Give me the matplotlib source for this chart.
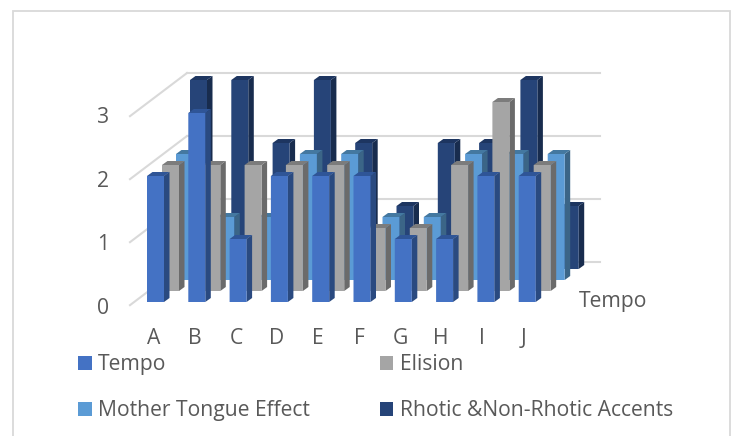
import matplotlib
matplotlib.use("Agg")
import matplotlib.pyplot as plt
import numpy as np
from matplotlib.collections import PolyCollection
from matplotlib.patches import Rectangle

categories = ["A", "B", "C", "D", "E", "F", "G", "H", "I", "J"]
tempo = [2, 3, 1, 2, 2, 2, 1, 1, 2, 2]
elision = [2, 2, 2, 2, 2, 1, 1, 2, 3, 2]
mother = [2, 1, 1, 2, 2, 1, 1, 2, 2, 2]
rhotic = [3, 3, 2, 3, 2, 1, 2, 2, 3, 1]
y_ticks = [0, 1, 2, 3]

W, H = 731, 436
PX_X, PX_Y = 41.3, 63.0
X0, Y0 = 147.0, 302.0
px2x = lambda p: (p - X0) / PX_X
py2y = lambda p: (Y0 - p) / PX_Y

plt.rcParams['font.family'] = ['Open Sans', 'DejaVu Sans']
FS = 15.2
fig = plt.figure(figsize=(W / 100, H / 100), dpi=100)
ax = fig.add_axes([0, 0, 1, 1])
ax.set_xlim(px2x(0), px2x(W))
ax.set_ylim(py2y(H), py2y(0))
ax.axis("off")

fig.add_artist(Rectangle((13 / W, -0.01), 717 / W, 1 - 10.5 / H + 0.01, fill=False,
                         ec="#D9D9D9", lw=1.3, transform=fig.transFigure))

# walls
grid = "#D9D9D9"
wall = py2y(262)
left, back, right = px2x(130), px2x(187), px2x(600)
for v in y_ticks:
    ax.plot([back, right], [v + wall, v + wall], color=grid, lw=1.5, zorder=1)
    ax.plot([left, back], [v - 0.05, v + wall], color=grid, lw=1.5, zorder=1)
    ax.text(px2x(103), v * 1.01 - 0.1, str(v), ha="center", va="center", fontsize=FS, color="#595959")

series = [
    ("Rhotic &Non-Rhotic Accents", rhotic, "#264478", "#1D3560", "#182C4E", 43, 33),
    ("Mother Tongue Effect", mother, "#5B9BD5", "#4478A0", "#3B6587", 29, 22),
    ("Elision", elision, "#A5A5A5", "#7C7C7C", "#6B6B6B", 15, 11),
    ("Tempo", tempo, "#4472C4", "#2F5597", "#2A4A80", 0, 0),
]
bw = 17.0 / PX_X
dx = 5.5 / PX_X
dy = 4.0 / PX_Y
xs = np.arange(len(categories), dtype=float)
handles = {}
for k, (name, vals, face, top, side, ox, oy) in enumerate(series):
    z = 3 + k * 3
    x = xs + ox / PX_X
    b = oy / PX_Y
    vals = np.asarray(vals, float)
    sides, tops = [], []
    for xi, v in zip(x, vals):
        t = v + b
        sides.append([(xi + bw, b), (xi + bw + dx, b + dy), (xi + bw + dx, t + dy), (xi + bw, t)])
        tops.append([(xi, t), (xi + dx, t + dy), (xi + bw + dx, t + dy), (xi + bw, t)])
    ax.add_collection(PolyCollection(sides, facecolors=side, edgecolors="none", zorder=z))
    ax.add_collection(PolyCollection(tops, facecolors=top, edgecolors="none", zorder=z))
    handles[name] = ax.bar(x, vals, bw, bottom=b, align="edge", color=face, label=name, zorder=z + 1)
    for p in handles[name]:
        p.set_snap(False)

for xi, c in zip(xs, categories):
    ax.text(xi * 0.993 + px2x(154), py2y(338), c, ha="center", va="center", fontsize=FS, color="#595959")
ax.text(px2x(613), py2y(301), "Tempo", ha="center", va="center", fontsize=FS, color="#595959")

order = ["Tempo", "Mother Tongue Effect", "Elision", "Rhotic &Non-Rhotic Accents"]
leg = ax.legend([handles[n] for n in order], order, ncol=2, frameon=False,
                loc="upper left", bbox_to_anchor=(78 / W, 1 - 354 / H), borderaxespad=0, borderpad=0,
                fontsize=FS, labelcolor="#595959", handlelength=0.65, handleheight=0.65,
                handletextpad=0.3, labelspacing=1.2, columnspacing=3.3)
leg.set_zorder(30)
fig.savefig("out.png", dpi=100)
